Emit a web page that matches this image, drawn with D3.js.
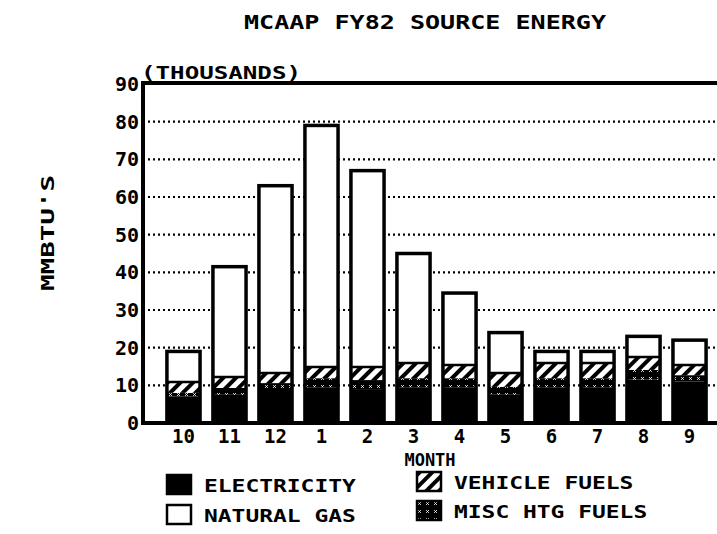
<!DOCTYPE html>
<html>
<head>
<meta charset="utf-8">
<script src="https://cdn.jsdelivr.net/npm/d3@7"></script>
<style>
  body { margin: 0; background: #fff; }
  text { font-family: "DejaVu Sans Mono", monospace; font-weight: bold; fill: #000; }
</style>
</head>
<body>
<script>
// data, thousands of MMBTU
const months = ["10","11","12","1","2","3","4","5","6","7","8","9"];
const electricity = [7.0, 7.5, 8.5, 9.5, 9.0, 9.5, 9.5, 7.5, 9.5, 9.5, 11.5, 11.0];
const miscHtg     = [1.0, 1.8, 2.1, 2.4, 2.4, 2.4, 2.4, 2.1, 2.4, 2.4, 2.6, 1.7];
const vehicle     = [2.9, 2.9, 2.7, 3.0, 3.5, 4.0, 3.5, 3.7, 4.0, 4.0, 3.4, 2.7];
const naturalGas  = [8.1, 29.3, 49.7, 64.1, 52.1, 29.1, 19.1, 10.7, 3.1, 3.1, 5.5, 6.6];
const yTicks = [0,10,20,30,40,50,60,70,80,90];

const W = 717, H = 534;
const svg = d3.select("body").append("svg").attr("width", W).attr("height", H);

const defs = svg.append("defs");
// vehicle fuels : white with heavy diagonal strokes
const pv = defs.append("pattern").attr("id","hatch").attr("patternUnits","userSpaceOnUse")
  .attr("width",9).attr("height",9).attr("patternTransform","rotate(45)");
pv.append("rect").attr("width",9).attr("height",9).attr("fill","#fff");
pv.append("rect").attr("width",4).attr("height",9).attr("fill","#000");
// misc htg fuels : black with faint white crosses (looks speckled in the scan)
const pm = defs.append("pattern").attr("id","misc").attr("patternUnits","userSpaceOnUse")
  .attr("width",8).attr("height",8);
pm.append("rect").attr("width",8).attr("height",8).attr("fill","#000");
pm.append("path").attr("d","M1,1L4,4M4,1L1,4").attr("stroke","#fff").attr("stroke-width",0.8);

const x = d3.scaleBand().domain(months).range([143, 730]).paddingInner(0.28).paddingOuter(0.52);
const y = d3.scaleLinear().domain([0, 90]).range([423, 84]);

// dotted grid
svg.append("g").selectAll("line").data(yTicks.filter(t => t > 0 && t < 90)).enter()
  .append("line")
  .attr("x1", 143).attr("x2", W)
  .attr("y1", d => y(d)).attr("y2", d => y(d))
  .attr("stroke", "#000").attr("stroke-width", 2.2)
  .attr("stroke-dasharray", "2,3");

// stacks
const rows = months.map((m, i) => ({month: m, elec: electricity[i], misc: miscHtg[i], veh: vehicle[i], gas: naturalGas[i]}));
const keys = ["elec","misc","veh","gas"];
const fills = {elec: "#000", misc: "url(#misc)", veh: "url(#hatch)", gas: "#fff"};
const series = d3.stack().keys(keys)(rows);

const g = svg.append("g");
series.forEach(s => {
  g.selectAll(null).data(s).enter().append("rect")
    .attr("x", d => x(d.data.month))
    .attr("width", x.bandwidth())
    .attr("y", d => y(d[1]))
    .attr("height", d => y(d[0]) - y(d[1]))
    .attr("fill", fills[s.key]);
});
// heavy outlines around each bar and between gas / hatch
g.selectAll(".outline").data(rows).enter().append("rect")
  .attr("class","outline")
  .attr("x", d => x(d.month))
  .attr("width", x.bandwidth())
  .attr("y", d => y(d.elec + d.misc + d.veh + d.gas))
  .attr("height", d => y(0) - y(d.elec + d.misc + d.veh + d.gas))
  .attr("fill", "none").attr("stroke", "#000").attr("stroke-width", 3.5);
g.selectAll(".sep").data(rows).enter().append("line")
  .attr("x1", d => x(d.month)).attr("x2", d => x(d.month) + x.bandwidth())
  .attr("y1", d => y(d.elec + d.misc + d.veh)).attr("y2", d => y(d.elec + d.misc + d.veh))
  .attr("stroke", "#000").attr("stroke-width", 2.5);

// frame
svg.append("line").attr("x1",143).attr("x2",143).attr("y1",y(90)-2).attr("y2",y(0)+2)
  .attr("stroke","#000").attr("stroke-width",4);
svg.append("line").attr("x1",141).attr("x2",W).attr("y1",y(90)-1).attr("y2",y(90)-1)
  .attr("stroke","#000").attr("stroke-width",4);
svg.append("line").attr("x1",141).attr("x2",W).attr("y1",y(0)).attr("y2",y(0))
  .attr("stroke","#000").attr("stroke-width",4);

// y tick labels
svg.append("g").selectAll("text").data(yTicks).enter().append("text")
  .attr("x", 139).attr("y", d => y(d) + 7)
  .attr("text-anchor", "end").attr("font-size", 20)
  .text(d => d);

// month labels
svg.append("g").selectAll("text").data(months).enter().append("text")
  .attr("x", d => x(d) + x.bandwidth() / 2).attr("y", 443)
  .attr("text-anchor", "middle").attr("font-size", 19)
  .text(d => d);

svg.append("text").attr("x", 430).attr("y", 466).attr("text-anchor","middle")
  .attr("font-size", 17).text("MONTH");

svg.append("text").attr("x", 425).attr("y", 29).attr("text-anchor","middle")
  .attr("font-size", 19).attr("textLength", 362).attr("lengthAdjust","spacingAndGlyphs")
  .attr("font-weight","normal")
  .text("MCAAP FY82 SOURCE ENERGY");

svg.append("text").attr("x", 141).attr("y", 79).attr("font-size", 18)
  .attr("font-weight","normal")
  .attr("textLength", 160).attr("lengthAdjust","spacingAndGlyphs")
  .text("(THOUSANDS)");

svg.append("text").attr("transform", "translate(54,233) rotate(-90)")
  .attr("text-anchor","middle").attr("font-size", 18)
  .attr("textLength", 116).attr("lengthAdjust","spacingAndGlyphs")
  .text("MMBTU'S");

// legend
const legend = [
  {label: "ELECTRICITY", key: "elec", x: 167, y: 475},
  {label: "NATURAL GAS", key: "gas", x: 167, y: 505},
  {label: "VEHICLE FUELS", key: "veh", x: 417, y: 472},
  {label: "MISC HTG FUELS", key: "misc", x: 417, y: 501}
];
const lg = svg.append("g").selectAll("g").data(legend).enter().append("g")
  .attr("transform", d => `translate(${d.x},${d.y})`);
lg.append("rect").attr("width", 24).attr("height", 19)
  .attr("fill", d => fills[d.key]).attr("stroke", "#000").attr("stroke-width", 2.5);
lg.append("text").attr("x", 37).attr("y", 17).attr("font-size", 18)
  .attr("font-weight","normal")
  .attr("textLength", d => d.label.length * 13.8).attr("lengthAdjust","spacingAndGlyphs")
  .text(d => d.label);
</script>
</body>
</html>
